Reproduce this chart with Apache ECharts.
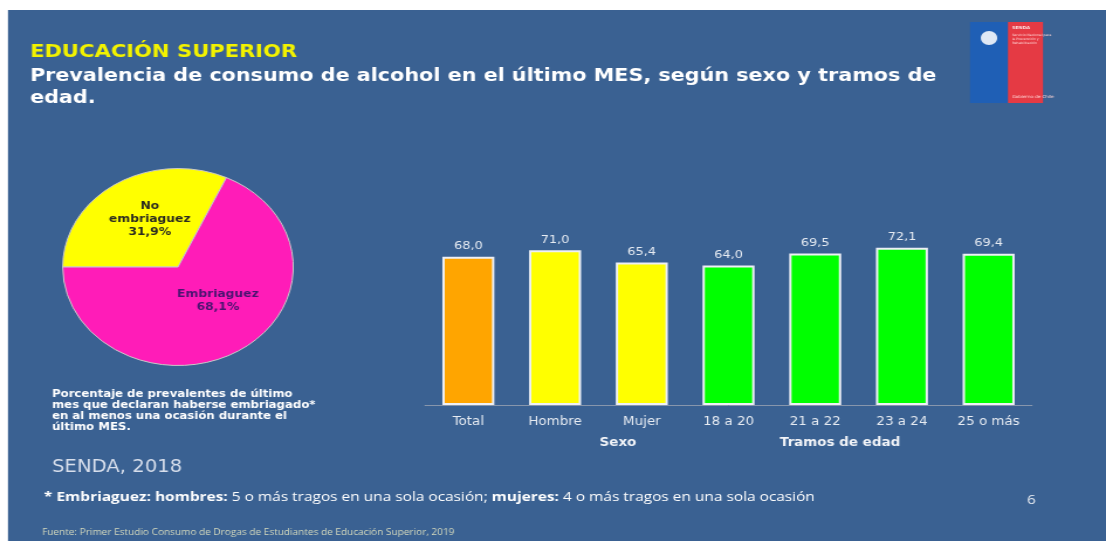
<!DOCTYPE html>
<html>
<head>
<meta charset="utf-8">
<script src="https://cdn.jsdelivr.net/npm/echarts@6/dist/echarts.min.js"></script>
<style>
  html, body { margin: 0; padding: 0; background: #ffffff; overflow: hidden; }
  /* the slide is horizontally stretched: draw at 945px wide and stretch to 1106px */
  #main { position: absolute; left: 0; top: 0; width: 945px; height: 541px; transform: scaleX(1.17037); transform-origin: 0 0; }
</style>
</head>
<body>
<div id="main"></div>
<script>
// ---- data ----
const categories = ['Total', 'Hombre', 'Mujer', '18 a 20', '21 a 22', '23 a 24', '25 o más'];
const values = [68.0, 71.0, 65.4, 64.0, 69.5, 72.1, 69.4];
const barColors = ['#FFA500', '#FFFF00', '#FFFF00', '#00FF00', '#00FF00', '#00FF00', '#00FF00'];
const groupLabels = ['Sexo', 'Tramos de edad'];
const pieNames = ['No\nembriaguez', 'Embriaguez'];
const pieValues = [31.9, 68.1];
const pieColors = ['#FFFF00', '#FF1CB8'];
const pieLabelColors = ['#2b2b20', '#4a1470'];

const BG = '#3a6192';
const S = 1.17037; // horizontal stretch
const X = v => v / S; // convert picture x to drawing x
const fmt = v => v.toFixed(1).replace('.', ',');

const chart = echarts.init(document.getElementById('main'), null, { renderer: 'canvas' });
chart.setOption({
  animation: false,
  backgroundColor: '#ffffff',
  grid: { left: X(425), right: 945 - X(1032), top: 187, bottom: 136, containLabel: false },
  xAxis: {
    type: 'category',
    data: categories,
    axisLine: { show: true, lineStyle: { color: '#8796ac', width: 1 } },
    axisTick: { show: false },
    axisLabel: { color: '#e6ebf2', fontFamily: 'DejaVu Sans', fontSize: 11.5, margin: 11 }
  },
  yAxis: {
    type: 'value', min: 0, max: 100,
    show: false, splitLine: { show: false }
  },
  graphic: [
    { type: 'rect', z: -10, shape: { x: X(8), y: 10, width: 945, height: 531 }, style: { fill: BG } },
    { type: 'text', left: X(30), top: 43, style: { text: 'EDUCACIÓN SUPERIOR', fill: '#f2f200', font: 'bold 18px "DejaVu Sans"' } },
    { type: 'text', left: X(30), top: 65, style: { text: 'Prevalencia de consumo de alcohol en el último MES, según sexo y tramos de\nedad.', fill: '#ffffff', font: 'bold 17.7px "DejaVu Sans"', lineHeight: 22.5 } },
    // logo
    { type: 'rect', shape: { x: X(970), y: 22, width: X(38), height: 81 }, style: { fill: '#1f5fb5' } },
    { type: 'rect', shape: { x: X(1008), y: 22, width: X(35), height: 81 }, style: { fill: '#e53a44' } },
    { type: 'ellipse', shape: { cx: X(989), cy: 38, rx: 7, ry: 7 }, style: { fill: '#dfe8f5' } },
    { type: 'text', left: X(1012), top: 26, style: { text: 'SENDA', fill: '#ffe0e0', font: 'bold 4px "DejaVu Sans"' } },
    { type: 'text', left: X(1012), top: 33, style: { text: 'Servicio Nacional para\nla Prevención y\nRehabilitación', fill: '#ffd5d5', font: '3px "DejaVu Sans"', lineHeight: 4 } },
    { type: 'text', left: X(1012), top: 95, style: { text: 'Gobierno de Chile', fill: '#ffd5d5', font: '4px "DejaVu Sans"' } },
    // left note
    { type: 'text', left: X(52), top: 389, style: { text: 'Porcentaje de prevalentes de último\nmes que declaran haberse embriagado*\nen al menos una ocasión durante el\núltimo MES.', fill: '#ffffff', font: 'bold 10px "DejaVu Sans"', lineHeight: 11 } },
    { type: 'text', left: X(52), top: 459, style: { text: 'SENDA, 2018', fill: '#d8dfec', font: '16.8px "DejaVu Sans"' } },
    // group labels
    { type: 'text', x: X(618), y: 443, style: { text: groupLabels[0], fill: '#f2f4f8', font: 'bold 11.5px "DejaVu Sans"', align: 'center', verticalAlign: 'middle' } },
    { type: 'text', x: X(840), y: 443, style: { text: groupLabels[1], fill: '#f2f4f8', font: 'bold 11.5px "DejaVu Sans"', align: 'center', verticalAlign: 'middle' } },
    // footnote
    { type: 'text', left: X(44), top: 491, style: {
        text: '{b|* Embriaguez: hombres:} 5 o más tragos en una sola ocasión; {b|mujeres:} 4 o más tragos en una sola ocasión',
        fill: '#ffffff', font: '13.2px "Open Sans"',
        rich: { b: { fontWeight: 'bold', fontFamily: 'Open Sans', fontSize: 13.2, fill: '#ffffff' } } } },
    { type: 'text', left: X(1027), top: 494, style: { text: '6', fill: '#e8ecf2', font: '13px "Open Sans"' } },
    { type: 'text', left: X(42), top: 528, style: { text: 'Fuente: Primer Estudio Consumo de Drogas de Estudiantes de Educación Superior, 2019', fill: '#d4d9bd', font: '8.6px "Open Sans"' } }
  ],
  series: [{
    type: 'bar',
    data: values.map((v, i) => ({ value: v, itemStyle: { color: barColors[i] } })),
    barWidth: X(52),
    itemStyle: { borderColor: '#eef0f6', borderWidth: 2 },
    label: {
      show: true, position: 'top', distance: 5,
      color: '#e6ebf2', fontFamily: 'DejaVu Sans', fontSize: 11,
      formatter: p => fmt(p.value)
    }
  }, {
    type: 'pie',
    center: [X(178), 267],
    radius: ['0%', 98.5],
    startAngle: 180,
    clockwise: true,
    avoidLabelOverlap: false,
    itemStyle: { borderColor: '#c9c9c9', borderWidth: 1 },
    label: {
      show: true, position: 'inside',
      fontFamily: 'DejaVu Sans', fontWeight: 'bold', fontSize: 10.5, lineHeight: 13,
      formatter: p => p.name + '\n' + fmt(p.value) + '%'
    },
    labelLine: { show: false },
    data: pieValues.map((v, i) => ({
      value: v, name: pieNames[i],
      itemStyle: { color: pieColors[i] },
      label: { color: pieLabelColors[i], offset: i === 0 ? [4, -4] : [6, -10] }
    }))
  }]
});
</script>
</body>
</html>
